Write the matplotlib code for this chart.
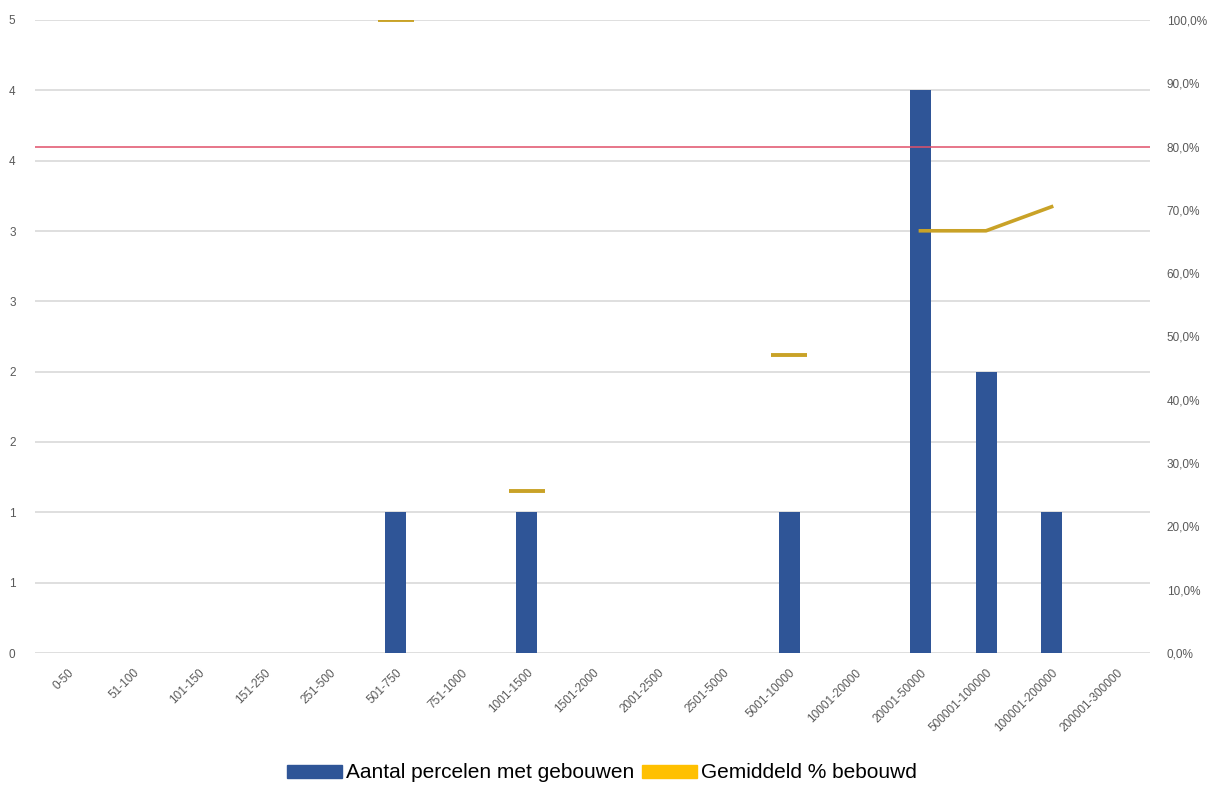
import numpy as np
import matplotlib.pyplot as plt
from matplotlib.patches import Patch

# data
klassen = ['0-50', '51-100', '101-150', '151-250', '251-500', '501-750', '751-1000',
           '1001-1500', '1501-2000', '2001-2500', '2501-5000', '5001-10000',
           '10001-20000', '20001-50000', '500001-100000', '100001-200000', '200001-300000']
aantal = [0, 0, 0, 0, 0, 1, 0, 1, 0, 0, 0, 1, 0, 4, 2, 1, 0]
gem_pct = [np.nan, np.nan, np.nan, np.nan, np.nan, 100.0, np.nan, 25.6, np.nan, np.nan,
           np.nan, 47.1, np.nan, 66.7, 66.7, 70.5, np.nan]
drempel = 80.0
links_ticks = [0, 0.5, 1, 1.5, 2, 2.5, 3, 3.5, 4, 4.5]
links_labels = ['0', '1', '1', '2', '2', '3', '3', '4', '4', '5']
rechts_ticks = [0, 10, 20, 30, 40, 50, 60, 70, 80, 90, 100]

plt.rcParams['font.family'] = ['Liberation Sans', 'DejaVu Sans']

fig = plt.figure(figsize=(12.18, 7.87), dpi=100)
ax = fig.add_axes([35 / 1218, 134 / 787, 1115 / 1218, 633 / 787])
ax2 = ax.twinx()

x = np.arange(len(klassen))
ax.bar(x, aantal, width=0.32, color='#2F5597', zorder=3)
ax.set_xlim(-0.5, len(klassen) - 0.5)
ax.set_ylim(0, 4.5)
ax.set_yticks(links_ticks)
ax.set_yticklabels(links_labels)
ax.yaxis.grid(True, color='#D9D9D9', linewidth=1.2, zorder=0)
ax.set_axisbelow(True)
ax.set_xticks(x)
ax.set_xticklabels(klassen, rotation=45, ha='right', rotation_mode='anchor')
ax.tick_params(axis='both', length=0, labelsize=8.5, labelcolor='#595959')
ax.tick_params(axis='y', pad=14)
ax.tick_params(axis='x', pad=10)
for s in ax.spines.values():
    s.set_visible(False)

# gemiddeld % bebouwd: line between neighbouring values, dash for isolated points
pct = np.array(gem_pct)
ax2.plot(x, pct, color='#C9A227', linewidth=2.6, zorder=4)
geldig = ~np.isnan(pct)
links_nan = np.r_[True, ~geldig[:-1]]
rechts_nan = np.r_[~geldig[1:], True]
los = geldig & links_nan & rechts_nan
ax2.plot(x[los], pct[los], linestyle='none', color='#C9A227', marker='_',
         markersize=26, markeredgewidth=2.8, zorder=4)
ax2.axhline(drempel, color='#E0506A', linewidth=1.1, zorder=5)
ax2.set_ylim(0, 100)
ax2.set_yticks(rechts_ticks)
ax2.set_yticklabels([f'{v:.1f}%'.replace('.', ',') for v in rechts_ticks])
ax2.tick_params(axis='y', length=0, labelsize=8.5, labelcolor='#595959', pad=12)
for s in ax2.spines.values():
    s.set_visible(False)

handles = [Patch(color='#2F5597'), Patch(color='#FFC000')]
fig.legend(handles, ['Aantal percelen met gebouwen', 'Gemiddeld % bebouwd'],
           loc='center', bbox_to_anchor=(602 / 1218, 1 - 773 / 787), ncol=2,
           frameon=False, fontsize=15, handlelength=2.6, handleheight=0.6,
           handletextpad=0.2, columnspacing=0.4)

fig.savefig('out.png', dpi=100)
